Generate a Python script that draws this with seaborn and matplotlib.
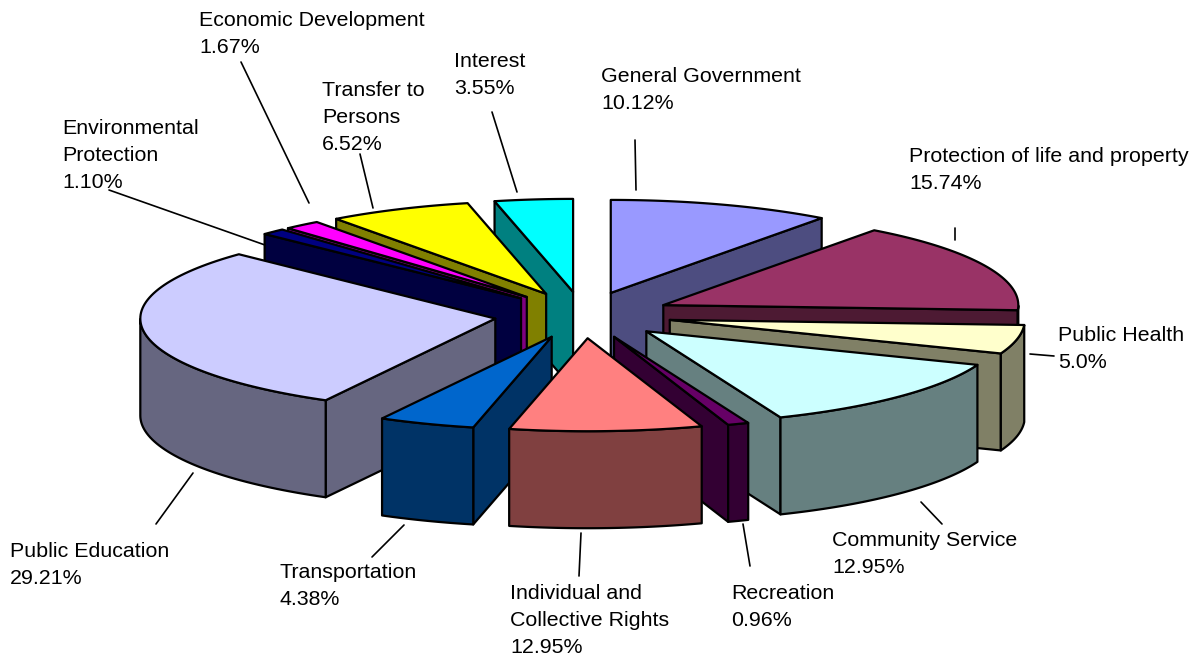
import numpy as np
import matplotlib
matplotlib.use('Agg')
import matplotlib.pyplot as plt
import seaborn as sns

# label text as printed on the chart
categories = ['General Government', 'Protection of life and property', 'Public Health',
              'Community Service', 'Recreation', 'Individual and\nCollective Rights',
              'Transportation', 'Public Education', 'Environmental\nProtection',
              'Economic Development', 'Transfer to\nPersons', 'Interest']
printed = ['10.12%', '15.74%', '5.0%', '12.95%', '0.96%', '12.95%',
           '4.38%', '29.21%', '1.10%', '1.67%', '6.52%', '3.55%']
# slice sizes as drawn (the Individual slice is drawn smaller than its label says)
shares = [10.12, 15.74, 5.0, 12.95, 0.96, 8.75, 4.38, 29.21, 1.10, 1.67, 6.52, 3.55]
colors = ['#9999FF', '#993366', '#FFFFCC', '#CCFFFF', '#660066', '#FF8080',
          '#0066CC', '#CCCCFF', '#000080', '#FF00FF', '#FFFF00', '#00FFFF']

# label anchor (left, top) and leader line ends, in pixels
label_pos = [(601, 67), (909, 147), (1058, 326), (832, 531), (731, 584), (510, 584),
             (279, 563), (10, 542), (62, 119), (199, 11), (322, 81), (454, 52)]
leaders = [((635, 140), (636, 190)), ((955, 228), (955, 240)), ((1030, 354), (1054, 356)),
           ((921, 502), (942, 524)), ((743, 524), (750, 566)), ((581, 533), (579, 576)),
           ((404, 525), (372, 557)), ((193, 473), (156, 524)), ((109, 190), (265, 245)),
           ((241, 62), (309, 203)), ((360, 154), (373, 208)), ((492, 112), (517, 192))]

cx, cy = 583, 315
rx, ry = 355, 93
depth = 97
explode = 0.25

sns.set_theme(style='white')
plt.rcParams['font.family'] = ['Liberation Sans', 'DejaVu Sans']

fig = plt.figure(figsize=(12, 6.6), dpi=100)
ax = fig.add_axes([0, 0, 1, 1])
ax.set_xlim(0, 1200)
ax.set_ylim(660, 0)
ax.axis('off')


def darker(c):
    return tuple(v / 2 for v in matplotlib.colors.to_rgb(c))


def face(xs, ys, color, z):
    ax.fill(xs, ys, facecolor=color, edgecolor='black', linewidth=1.6, joinstyle='round', zorder=z)


# turn shares into angles, clockwise from twelve o'clock
total = sum(shares)
edges = np.concatenate([[0], np.cumsum(shares)]) / total * 360
slices = []
for i in range(len(shares)):
    slices.append((edges[i], edges[i + 1], colors[i]))
# back slices are painted first
slices.sort(key=lambda s: -abs((s[0] + s[1]) / 2 - 180))

z = 2
for start, end, color in slices:
    mid = np.radians((start + end) / 2)
    ox = cx + explode * rx * np.sin(mid)
    oy = cy - explode * ry * np.cos(mid)
    t = np.radians(np.linspace(start, end, 80))
    ex = ox + rx * np.sin(t)
    ey = oy - ry * np.cos(t)
    side = darker(color)
    # radial walls that face the viewer
    if np.sin(np.radians(start)) < 0:
        face([ox, ex[0], ex[0], ox], [oy, ey[0], ey[0] + depth, oy + depth], side, z)
    if np.sin(np.radians(end)) > 0:
        face([ox, ex[-1], ex[-1], ox], [oy, ey[-1], ey[-1] + depth, oy + depth], side, z)
    # outer wall, front half only
    keep = (np.degrees(t) >= 90) & (np.degrees(t) <= 270)
    if keep.sum() > 1:
        face(np.r_[ex[keep], ex[keep][::-1]], np.r_[ey[keep], ey[keep][::-1] + depth], side, z)
    # top
    face(np.r_[ox, ex], np.r_[oy, ey], color, z + 0.5)
    z += 1

for (x, y), name, pct in zip(label_pos, categories, printed):
    ax.text(x, y, name + '\n' + pct, fontsize=15.4, color='black', ha='left', va='top',
            linespacing=1.52, zorder=50)
for a, b in leaders:
    ax.plot([a[0], b[0]], [a[1], b[1]], color='black', linewidth=1.2, zorder=50)

fig.savefig('out.png', dpi=100)
